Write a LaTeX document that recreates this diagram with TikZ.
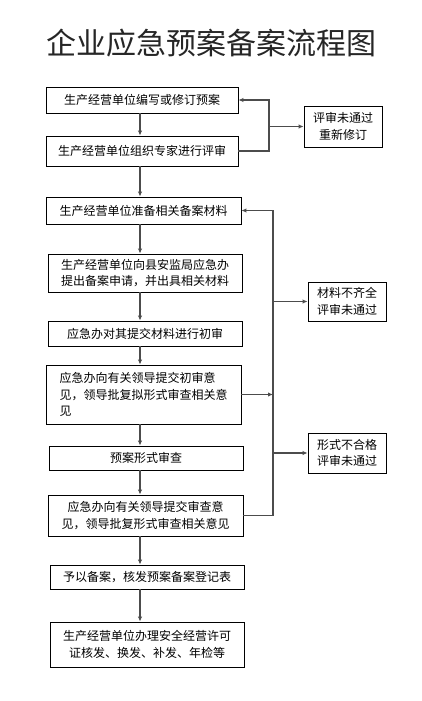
\documentclass[tikz,border=0pt]{standalone}
\usepackage{fontspec}
\newfontfamily\cjk{Noto Sans CJK SC}
\usetikzlibrary{arrows.meta}
\begin{document}
\begin{tikzpicture}[x=1pt,y=-1pt,
  box/.style={draw=black,line width=0.9pt,inner sep=0pt,font=\cjk\fontsize{12}{16.5}\selectfont,align=center},
  conn/.style={draw=black!70,line width=1.3pt},
  arr/.style={conn,-{Latex[length=5pt,width=4.5pt]}}]
\useasboundingbox[fill=white] (0,0) rectangle (421,701);
\node[font=\cjk\fontsize{30}{36}\selectfont,text=black!85] (title) at (211.5,43) {企业应急预案备案流程图};
\node[box,minimum width=192pt,minimum height=26pt] (b1) at (142,100) {生产经营单位编写或修订预案};
\node[box,minimum width=192pt,minimum height=30pt] (b2) at (142,151) {生产经营单位组织专家进行评审};
\node[box,minimum width=195pt,minimum height=27pt] (b3) at (143.5,210.5) {生产经营单位准备相关备案材料};
\node[box,minimum width=194pt,minimum height=38pt] (b4) at (145,273) {生产经营单位向县安监局应急办\\提出备案申请，并出具相关材料};
\node[box,minimum width=194pt,minimum height=25pt] (b5) at (145,333.5) {应急办对其提交材料进行初审};
\node[box,minimum width=195pt,minimum height=59pt,align=left] (b6) at (143.5,394.5) {应急办向有关领导提交初审意\\见，领导批复拟形式审查相关意\\见};
\node[box,minimum width=194pt,minimum height=24pt] (b7) at (146,458) {预案形式审查};
\node[box,minimum width=195pt,minimum height=41pt] (b8) at (145.5,515.5) {应急办向有关领导提交审查意\\见，领导批复形式审查相关意见};
\node[box,minimum width=194pt,minimum height=24pt] (b9) at (147,577) {予以备案，核发预案备案登记表};
\node[box,minimum width=194pt,minimum height=45pt] (b10) at (147,644.5) {生产经营单位办理安全经营许可\\证核发、换发、补发、年检等};
\node[box,minimum width=78pt,minimum height=41pt] (r1) at (343,126.5) {评审未通过\\重新修订};
\node[box,minimum width=78pt,minimum height=39pt] (r2) at (347,301.5) {材料不齐全\\评审未通过};
\node[box,minimum width=78pt,minimum height=40pt] (r3) at (347,453) {形式不合格\\评审未通过};
\coordinate (ax) at (140,0);
\coordinate (lx1) at (269,0);
\coordinate (lx2) at (273,0);
\foreach \a/\b in {b1/b2,b2/b3,b3/b4,b4/b5,b5/b6,b6/b7,b7/b8,b8/b9,b9/b10}
  \draw[arr] (\a.south -| ax) -- (\b.north -| ax);
\draw[arr] (b2.east) -- (b2.east -| lx1) -- (b1.east -| lx1) -- (b1.east);
\draw[arr] (r1.west -| lx1) -- (r1.west);
\draw[arr] (b8.east) -- (b8.east -| lx2) -- (b3.east -| lx2) -- (b3.east);
\draw[arr] (b6.east) -- (b6.east -| lx2);
\draw[arr] (r2.west -| lx2) -- (r2.west);
\draw[arr] (r3.west -| lx2) -- (r3.west);
\end{tikzpicture}
\end{document}
